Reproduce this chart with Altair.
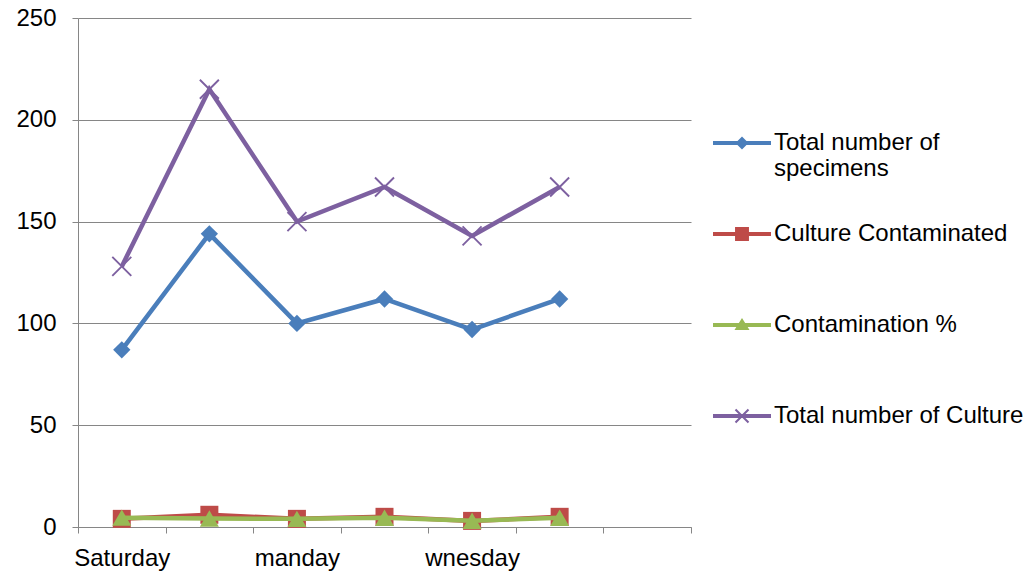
import altair as alt
import pandas as pd

# ---------------- data ----------------
days = ["Saturday", "sunday", "manday", "tuesday", "wnesday", "thursday"]
x_categories = days + ["friday"]          # 7th band is empty in the original
shown_labels = ["Saturday", "manday", "wnesday"]
series_names = ["Total number of specimens", "Culture Contaminated",
                "Contamination %", "Total number of Culture"]
specimens = [87, 144, 100, 112, 97, 112]
contaminated = [4, 6, 4, 5, 3, 5]
contamination_pct = [4.6, 4.2, 4.0, 4.5, 3.1, 4.5]
cultures = [128, 215, 150, 167, 143, 167]
y_ticks = [0, 50, 100, 150, 200, 250]

rows = []
for name, vals in zip(series_names, [specimens, contaminated, contamination_pct, cultures]):
    for d, v in zip(days, vals):
        rows.append({"day": d, "series": name, "value": v})
df = pd.DataFrame(rows)

# ---------------- styles ----------------
colors = ["#4A7EBB", "#BE4B48", "#98B954", "#7D60A0"]
X_PATH = ("M-0.93,-1.07L1.07,0.93L0.93,1.07L-1.07,-0.93Z"
          "M-1.07,0.93L0.93,-1.07L1.07,-0.93L-0.93,1.07Z")
point_shapes = ["diamond", "square", "triangle-up", X_PATH]
point_sizes = [300, 324, 360, 361]

# legend symbol = line segment + marker; the zero-area "M0,-1.35V1.35" only sets the row height
LINE = "M0,-1.35V1.35M-1,-0.069H1V0.069H-1Z"
legend_paths = [
    LINE + "M0,-0.224L0.224,0L0,0.224L-0.224,0Z",
    LINE + "M-0.24,-0.24H0.24V0.24H-0.24Z",
    LINE + "M0,-0.24L0.26,0.17L-0.26,0.17Z",
    LINE + "M-0.199,-0.249L0.249,0.199L0.199,0.249L-0.249,-0.199Z"
           "M-0.249,0.199L0.199,-0.249L0.249,-0.199L-0.199,0.249Z",
]

FONT = "Liberation Sans"
GREY = "#868686"
FS = 24

shown_expr = "indexof([" + ",".join("'%s'" % s for s in shown_labels) + "], datum.value) >= 0 ? datum.label : ''"

x_enc = alt.X(
    "day:N",
    sort=x_categories,
    bandPosition=0.5,
    scale=alt.Scale(type="band", domain=x_categories, paddingInner=0, paddingOuter=0),
    axis=alt.Axis(title=None, labelAngle=0, tickBand="extent", labelExpr=shown_expr,
                  labelFont=FONT, labelFontSize=FS, labelColor="black", labelPadding=13,
                  domainColor=GREY, tickColor=GREY, tickSize=6, grid=False),
)
y_enc = alt.Y(
    "value:Q",
    scale=alt.Scale(domain=[0, 250], nice=False),
    axis=alt.Axis(title=None, values=y_ticks, grid=True, gridColor=GREY, gridWidth=1,
                  labelFont=FONT, labelFontSize=FS, labelColor="black", labelPadding=16,
                  domainColor=GREY, tickColor=GREY, tickSize=6),
)

base = alt.Chart(df)
layers = []
for name, col, shp, sz in zip(series_names, colors, point_shapes, point_sizes):
    sub = base.transform_filter(alt.datum.series == name)
    layers.append(sub.mark_line(color=col, strokeWidth=4.5).encode(x=x_enc, y=y_enc))
    layers.append(sub.mark_point(color=col, shape=shp, size=sz, filled=True, opacity=1,
                                 strokeWidth=0).encode(x=x_enc, y=y_enc))

label_expr = ("datum.label == 'Total number of specimens' ? "
              "['Total number of', 'specimens'] : datum.label")
leg = alt.Legend(title=None, orient="none", legendX=635, legendY=96, padding=0,
                 symbolSize=3364, symbolStrokeWidth=0, symbolOpacity=1,
                 labelFont=FONT, labelFontSize=FS, labelColor="black", labelLimit=400,
                 labelOffset=3, rowPadding=11, labelExpr=label_expr)

legend_layer = base.transform_filter("false").mark_point(filled=True, opacity=1).encode(
    color=alt.Color("series:N", scale=alt.Scale(domain=series_names, range=colors), legend=leg),
    shape=alt.Shape("series:N", scale=alt.Scale(domain=series_names, range=legend_paths), legend=leg),
)

chart = alt.layer(*layers, legend_layer).properties(
    width=613, height=509,
    autosize=alt.AutoSizeParams(type="none"),
    padding={"left": 70, "top": 10, "right": 337, "bottom": 48},
).configure_view(stroke=None)

chart.save("out.html", embed_options={"renderer": "svg", "actions": False})
